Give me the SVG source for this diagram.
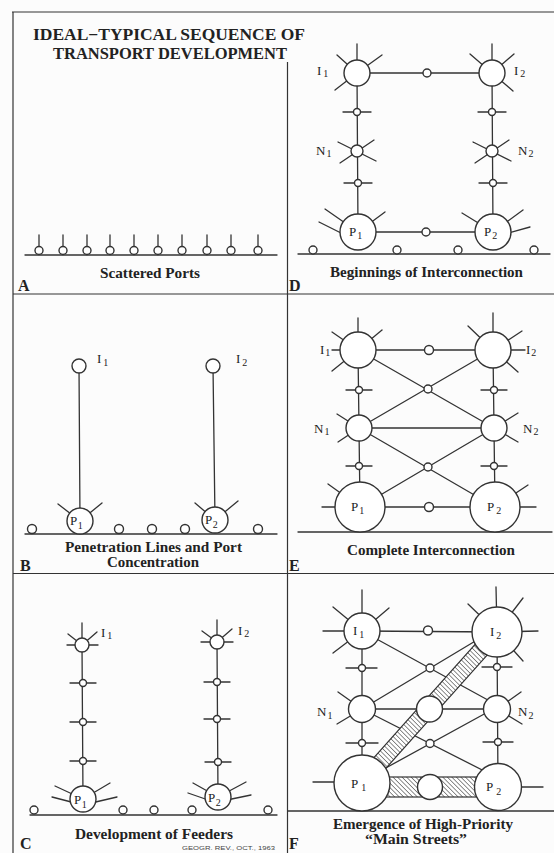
<svg xmlns="http://www.w3.org/2000/svg" width="554" height="853" viewBox="0 0 554 853">
<defs>
  <pattern id="hatch" width="3.2" height="3.2" patternUnits="userSpaceOnUse" patternTransform="rotate(-45)">
    <rect width="3.2" height="3.2" fill="#fff"/>
    <line x1="0" y1="0" x2="0" y2="3.2" stroke="#444" stroke-width="1.2"/>
  </pattern>
</defs>
<style>
  .frame{stroke:#333;stroke-width:1.2;fill:none}
  .ln{stroke:#333;stroke-width:1.3;fill:none;stroke-linecap:round}
  .nd{fill:#fff;stroke:#333;stroke-width:1.4}
  .band{fill:url(#hatch);stroke:#333;stroke-width:1.2}
  .cap{font-family:"Liberation Serif",serif;font-weight:bold;font-size:14.5px;fill:#222;text-anchor:middle}
  .ttl{font-family:"Liberation Serif",serif;font-weight:bold;font-size:16px;fill:#222}
  .pl{font-family:"Liberation Serif",serif;font-weight:bold;font-size:16px;fill:#222}
  .lb{font-family:"Liberation Serif",serif;font-size:13px;fill:#222;stroke:none}
  .sb{font-size:10px}
  .src{font-family:"Liberation Sans",sans-serif;font-size:6px;fill:#444}
</style>
<rect width="554" height="853" fill="#fcfcfc"/>

<!-- frame and panel dividers -->
<g id="frame">
  <line class="frame" x1="12" y1="12" x2="554" y2="12"/>
  <line class="frame" x1="13" y1="12" x2="13" y2="853"/>
  <line class="frame" x1="287.5" y1="62" x2="287.5" y2="853"/>
  <line class="frame" x1="13" y1="294" x2="554" y2="294"/>
  <line class="frame" x1="13" y1="573.5" x2="554" y2="573.5"/>
</g>

<g id="title">
  <text class="ttl" x="33" y="40" textLength="272" lengthAdjust="spacingAndGlyphs">IDEAL−TYPICAL SEQUENCE OF</text>
  <text class="ttl" x="53" y="59" textLength="234" lengthAdjust="spacingAndGlyphs">TRANSPORT DEVELOPMENT</text>
</g>

<!-- connectors: routes, feeders and ground lines -->
<g id="connectors">
  <!-- A -->
  <line class="ln" x1="25" y1="255" x2="277" y2="255"/>
  <!-- B -->
  <line class="ln" x1="25" y1="534" x2="277" y2="534"/>
  <line class="ln" x1="79" y1="366" x2="80" y2="521"/>
  <line class="ln" x1="213" y1="366" x2="215" y2="520"/>
  <!-- C -->
  <line class="ln" x1="30" y1="815" x2="277" y2="815"/>
  <line class="ln" x1="82" y1="645" x2="83" y2="799"/>
  <line class="ln" x1="217" y1="642" x2="218" y2="797"/>
  <!-- D -->
  <line class="ln" x1="298" y1="254" x2="550" y2="254"/>
  <line class="ln" x1="357" y1="73" x2="492" y2="73"/>
  <line class="ln" x1="357" y1="73" x2="358" y2="232"/>
  <line class="ln" x1="492" y1="73" x2="493" y2="232"/>
  <line class="ln" x1="358" y1="232" x2="493" y2="232"/>
  <!-- E -->
  <line class="ln" x1="298" y1="532" x2="552" y2="532"/>
  <line class="ln" x1="358" y1="350" x2="493" y2="350"/>
  <line class="ln" x1="358" y1="350" x2="360" y2="507"/>
  <line class="ln" x1="493" y1="350" x2="495" y2="507"/>
  <line class="ln" x1="358" y1="350" x2="494" y2="428"/>
  <line class="ln" x1="493" y1="350" x2="359" y2="428"/>
  <line class="ln" x1="359" y1="428" x2="494" y2="428"/>
  <line class="ln" x1="359" y1="428" x2="495" y2="507"/>
  <line class="ln" x1="494" y1="428" x2="360" y2="507"/>
  <line class="ln" x1="360" y1="507" x2="495" y2="507"/>
  <!-- F -->
  <line class="ln" x1="288" y1="811" x2="554" y2="811"/>
  <line class="ln" x1="362" y1="631" x2="497" y2="632"/>
  <line class="ln" x1="362" y1="631" x2="362" y2="783"/>
  <line class="ln" x1="497" y1="632" x2="498" y2="787"/>
  <line class="ln" x1="362" y1="631" x2="497" y2="705"/>
  <line class="ln" x1="362" y1="709" x2="497" y2="628"/>
  <line class="ln" x1="362" y1="709" x2="497" y2="709"/>
  <line class="ln" x1="362" y1="709" x2="498" y2="778"/>
  <line class="ln" x1="362" y1="781" x2="497" y2="707"/>
  <polygon class="band" points="356,777.7 491,626.7 503,637.3 368,788.3"/>
  <rect class="band" x="362" y="777" width="136" height="20"/>
</g>

<!-- ===== A: scattered ports ===== -->
<g id="a-ports" class="ln">
  <line x1="39" y1="235" x2="39" y2="246"/><line x1="63" y1="235" x2="63" y2="246"/>
  <line x1="87" y1="235" x2="87" y2="246"/><line x1="110" y1="235" x2="110" y2="246"/>
  <line x1="134" y1="235" x2="134" y2="246"/><line x1="158" y1="235" x2="158" y2="246"/>
  <line x1="182" y1="235" x2="182" y2="246"/><line x1="207" y1="235" x2="207" y2="246"/>
  <line x1="231" y1="235" x2="231" y2="246"/><line x1="258" y1="235" x2="258" y2="246"/>
</g>
<g id="a-port-nodes" class="nd">
  <circle cx="39" cy="250.5" r="4"/><circle cx="63" cy="250.5" r="4"/><circle cx="87" cy="250.5" r="4"/>
  <circle cx="110" cy="250.5" r="4"/><circle cx="134" cy="250.5" r="4"/><circle cx="158" cy="250.5" r="4"/>
  <circle cx="182" cy="250.5" r="4"/><circle cx="207" cy="250.5" r="4"/><circle cx="231" cy="250.5" r="4"/>
  <circle cx="258" cy="250.5" r="4"/>
</g>
<text class="cap" x="150" y="278" textLength="100" lengthAdjust="spacingAndGlyphs">Scattered Ports</text>
<text class="pl" x="18" y="291">A</text>

<!-- ===== B: penetration lines ===== -->
<g id="b-i1"><circle class="nd" cx="79" cy="366" r="7"/>
  <text class="lb" x="97" y="363">I<tspan class="sb" dx="2" dy="3">1</tspan></text></g>
<g id="b-i2"><circle class="nd" cx="213" cy="366" r="7"/>
  <text class="lb" x="236" y="363">I<tspan class="sb" dx="2" dy="3">2</tspan></text></g>
<g id="b-p1">
  <line class="ln" x1="80" y1="521" x2="58" y2="504"/><line class="ln" x1="80" y1="521" x2="102" y2="503"/>
  <circle class="nd" cx="80" cy="521" r="13"/>
  <text class="lb" x="70" y="525">P<tspan class="sb" dx="0.5" dy="4">1</tspan></text></g>
<g id="b-p2">
  <line class="ln" x1="215" y1="520" x2="195" y2="503"/><line class="ln" x1="215" y1="520" x2="238" y2="501"/>
  <circle class="nd" cx="215" cy="520" r="13"/>
  <text class="lb" x="205" y="524">P<tspan class="sb" dx="0.5" dy="4">2</tspan></text></g>
<g id="b-ports" class="nd">
  <circle cx="32" cy="529" r="4.5"/><circle cx="119" cy="529" r="4.5"/><circle cx="152" cy="529" r="4.5"/>
  <circle cx="185" cy="529" r="4.5"/><circle cx="258" cy="529" r="4.5"/>
</g>
<text class="cap" x="153.5" y="552" textLength="177" lengthAdjust="spacingAndGlyphs">Penetration Lines and Port</text>
<text class="cap" x="153" y="567" textLength="92" lengthAdjust="spacingAndGlyphs">Concentration</text>
<text class="pl" x="20" y="571">B</text>

<!-- ===== C: feeders ===== -->
<g id="c-i1" class="ln">
  <line x1="82" y1="645" x2="82" y2="623"/><line x1="82" y1="645" x2="68" y2="634"/>
  <line x1="82" y1="645" x2="97" y2="632"/><line x1="82" y1="645" x2="67" y2="645"/>
  <line x1="82" y1="645" x2="98" y2="645"/>
  <circle class="nd" cx="82" cy="645" r="7"/>
  <text class="lb" x="101" y="637">I<tspan class="sb" dx="2" dy="2">1</tspan></text>
</g>
<g id="c-i2" class="ln">
  <line x1="217" y1="642" x2="217" y2="620"/><line x1="217" y1="642" x2="202" y2="631"/>
  <line x1="217" y1="642" x2="232" y2="629"/><line x1="217" y1="642" x2="201" y2="642"/>
  <line x1="217" y1="642" x2="233" y2="642"/>
  <circle class="nd" cx="217" cy="642" r="7"/>
  <text class="lb" x="238" y="635">I<tspan class="sb" dx="2" dy="2">2</tspan></text>
</g>
<g id="c-feeder-nodes" class="ln">
  <line x1="70" y1="683" x2="96" y2="683"/><circle class="nd" cx="83" cy="683" r="3.5"/>
  <line x1="70" y1="722" x2="96" y2="722"/><circle class="nd" cx="83" cy="722" r="3.5"/>
  <line x1="70" y1="761" x2="96" y2="761"/><circle class="nd" cx="83" cy="761" r="3.5"/>
  <line x1="204" y1="682" x2="230" y2="682"/><circle class="nd" cx="217" cy="682" r="3.5"/>
  <line x1="204" y1="719" x2="230" y2="719"/><circle class="nd" cx="217" cy="719" r="3.5"/>
  <line x1="205" y1="762" x2="231" y2="762"/><circle class="nd" cx="218" cy="762" r="3.5"/>
</g>
<g id="c-p1" class="ln">
  <line x1="55" y1="786" x2="83" y2="799"/><line x1="52" y1="797" x2="79" y2="804"/>
  <line x1="110" y1="783" x2="83" y2="799"/><line x1="117" y1="797" x2="87" y2="804"/>
  <circle class="nd" cx="83" cy="799" r="13"/>
  <text class="lb" x="74" y="804">P<tspan class="sb" dx="0.5" dy="4">1</tspan></text>
</g>
<g id="c-p2" class="ln">
  <line x1="193" y1="783" x2="218" y2="797"/><line x1="188" y1="793" x2="214" y2="802"/>
  <line x1="246" y1="782" x2="218" y2="797"/><line x1="251" y1="795" x2="222" y2="801"/>
  <circle class="nd" cx="218" cy="797" r="13"/>
  <text class="lb" x="208" y="802">P<tspan class="sb" dx="0.5" dy="4">2</tspan></text>
</g>
<g id="c-ports" class="nd">
  <circle cx="34" cy="810" r="4"/><circle cx="123" cy="810" r="4"/><circle cx="154" cy="810" r="4"/>
  <circle cx="192" cy="810" r="4"/><circle cx="268" cy="810" r="4"/>
</g>
<text class="cap" x="154" y="839" textLength="158" lengthAdjust="spacingAndGlyphs">Development of Feeders</text>
<text class="src" x="182" y="850" textLength="93" lengthAdjust="spacingAndGlyphs">GEOGR. REV., OCT., 1963</text>
<text class="pl" x="20" y="849">C</text>

<!-- ===== D: beginnings of interconnection ===== -->
<g id="d-i1" class="ln">
  <line x1="357" y1="73" x2="357" y2="44"/><line x1="357" y1="73" x2="337" y2="55"/>
  <line x1="357" y1="73" x2="382" y2="55"/><line x1="357" y1="73" x2="335" y2="90"/>
  <circle class="nd" cx="357" cy="73" r="13"/>
  <text class="lb" x="317" y="75">I<tspan class="sb" dx="2" dy="2">1</tspan></text>
</g>
<g id="d-i2" class="ln">
  <line x1="492" y1="73" x2="492" y2="44"/><line x1="492" y1="73" x2="470" y2="54"/>
  <line x1="492" y1="73" x2="514" y2="54"/><line x1="492" y1="73" x2="513" y2="91"/>
  <circle class="nd" cx="492" cy="73" r="13"/>
  <text class="lb" x="514" y="75">I<tspan class="sb" dx="2" dy="2">2</tspan></text>
</g>
<g id="d-mid-nodes" class="nd">
  <circle cx="427" cy="73" r="4"/><circle cx="426" cy="232" r="4"/>
</g>
<g id="d-feeder-nodes" class="ln">
  <line x1="343" y1="112" x2="371" y2="112"/><circle class="nd" cx="357" cy="112" r="3.5"/>
  <line x1="344" y1="183" x2="372" y2="183"/><circle class="nd" cx="358" cy="183" r="3.5"/>
  <line x1="478" y1="112" x2="506" y2="112"/><circle class="nd" cx="492" cy="112" r="3.5"/>
  <line x1="479" y1="183" x2="507" y2="183"/><circle class="nd" cx="493" cy="183" r="3.5"/>
</g>
<g id="d-n1" class="ln">
  <line x1="338" y1="142" x2="376" y2="161"/><line x1="374" y1="140" x2="340" y2="163"/>
  <circle class="nd" cx="357" cy="151" r="6"/>
  <text class="lb" x="316" y="155">N<tspan class="sb" dx="1" dy="2">1</tspan></text>
</g>
<g id="d-n2" class="ln">
  <line x1="473" y1="142" x2="511" y2="161"/><line x1="509" y1="140" x2="475" y2="163"/>
  <circle class="nd" cx="492" cy="151" r="6"/>
  <text class="lb" x="518" y="155">N<tspan class="sb" dx="1" dy="2">2</tspan></text>
</g>
<g id="d-p1" class="ln">
  <line x1="325" y1="209" x2="358" y2="232"/><line x1="319" y1="222" x2="345" y2="235"/>
  <line x1="385" y1="212" x2="358" y2="232"/>
  <circle class="nd" cx="358" cy="232" r="18"/>
  <text class="lb" x="349" y="236">P<tspan class="sb" dx="1" dy="3">1</tspan></text>
</g>
<g id="d-p2" class="ln">
  <line x1="462" y1="213" x2="493" y2="232"/><line x1="523" y1="210" x2="493" y2="232"/>
  <line x1="530" y1="227" x2="505" y2="234"/>
  <circle class="nd" cx="493" cy="232" r="18"/>
  <text class="lb" x="484" y="236">P<tspan class="sb" dx="1" dy="3">2</tspan></text>
</g>
<g id="d-ports" class="nd">
  <circle cx="313" cy="250" r="4"/><circle cx="397" cy="250" r="4"/>
  <circle cx="458" cy="250" r="4"/><circle cx="534" cy="250" r="4"/>
</g>
<text class="cap" x="426.5" y="277" textLength="193" lengthAdjust="spacingAndGlyphs">Beginnings of Interconnection</text>
<text class="pl" x="289" y="291">D</text>

<!-- ===== E: complete interconnection ===== -->
<g id="e-i1" class="ln">
  <line x1="358" y1="350" x2="358" y2="318"/><line x1="358" y1="350" x2="332" y2="332"/>
  <line x1="358" y1="350" x2="382" y2="330"/><line x1="358" y1="350" x2="332" y2="371"/>
  <line x1="358" y1="350" x2="332" y2="350"/>
  <circle class="nd" cx="358" cy="350" r="18"/>
  <text class="lb" x="320" y="354">I<tspan class="sb" dx="1" dy="2">1</tspan></text>
</g>
<g id="e-i2" class="ln">
  <line x1="493" y1="350" x2="493" y2="313"/><line x1="493" y1="350" x2="468" y2="326"/>
  <line x1="493" y1="350" x2="522" y2="331"/><line x1="493" y1="350" x2="525" y2="350"/>
  <line x1="493" y1="350" x2="518" y2="372"/>
  <circle class="nd" cx="493" cy="350" r="18"/>
  <text class="lb" x="526" y="354">I<tspan class="sb" dx="1" dy="2">2</tspan></text>
</g>
<g id="e-mid-nodes" class="nd">
  <circle cx="429" cy="350" r="4.5"/><circle cx="428" cy="389" r="4"/>
  <circle cx="428" cy="467" r="4"/><circle cx="429" cy="507" r="4.5"/>
</g>
<g id="e-feeder-nodes" class="ln">
  <line x1="346" y1="390" x2="372" y2="390"/><circle class="nd" cx="359" cy="390" r="3.5"/>
  <line x1="346" y1="466" x2="372" y2="466"/><circle class="nd" cx="359" cy="466" r="3.5"/>
  <line x1="481" y1="390" x2="507" y2="390"/><circle class="nd" cx="494" cy="390" r="3.5"/>
  <line x1="481" y1="466" x2="507" y2="466"/><circle class="nd" cx="494" cy="466" r="3.5"/>
</g>
<g id="e-n1" class="ln">
  <line x1="359" y1="428" x2="337" y2="414"/><line x1="359" y1="428" x2="338" y2="442"/>
  <circle class="nd" cx="359" cy="428" r="13"/>
  <text class="lb" x="314" y="433">N<tspan class="sb" dx="1" dy="2">1</tspan></text>
</g>
<g id="e-n2" class="ln">
  <line x1="494" y1="428" x2="518" y2="413"/><line x1="494" y1="428" x2="518" y2="442"/>
  <circle class="nd" cx="494" cy="428" r="13"/>
  <text class="lb" x="523" y="433">N<tspan class="sb" dx="1" dy="2">2</tspan></text>
</g>
<g id="e-p1" class="ln">
  <line x1="360" y1="507" x2="328" y2="484"/><line x1="360" y1="507" x2="322" y2="507"/>
  <circle class="nd" cx="360" cy="507" r="25"/>
  <text class="lb" x="351" y="511">P<tspan class="sb" dx="1" dy="3">1</tspan></text>
</g>
<g id="e-p2" class="ln">
  <line x1="495" y1="507" x2="528" y2="485"/><line x1="495" y1="507" x2="536" y2="507"/>
  <circle class="nd" cx="495" cy="507" r="25"/>
  <text class="lb" x="487" y="511">P<tspan class="sb" dx="2" dy="3">2</tspan></text>
</g>
<text class="cap" x="431" y="555" textLength="168" lengthAdjust="spacingAndGlyphs">Complete Interconnection</text>
<text class="pl" x="289" y="571">E</text>

<!-- ===== F: high-priority main streets ===== -->
<g id="f-i1" class="ln">
  <line x1="362" y1="631" x2="362" y2="590"/><line x1="362" y1="631" x2="333" y2="607"/>
  <line x1="362" y1="631" x2="389" y2="608"/><line x1="362" y1="631" x2="323" y2="631"/>
  <line x1="362" y1="631" x2="333" y2="653"/>
  <circle class="nd" cx="362" cy="631" r="18"/>
  <text class="lb" x="353" y="635">I<tspan class="sb" dx="2" dy="3">1</tspan></text>
</g>
<g id="f-i2" class="ln">
  <line x1="497" y1="632" x2="496" y2="587"/><line x1="497" y1="632" x2="468" y2="604"/>
  <line x1="497" y1="632" x2="523" y2="598"/><line x1="497" y1="632" x2="538" y2="631"/>
  <line x1="497" y1="632" x2="523" y2="661"/>
  <circle class="nd" cx="497" cy="632" r="25"/>
  <text class="lb" x="490" y="636">I<tspan class="sb" dx="2" dy="3">2</tspan></text>
</g>
<g id="f-mid-nodes" class="nd">
  <circle cx="428" cy="630.5" r="4.5"/><circle cx="430" cy="668" r="4"/><circle cx="430" cy="743.5" r="4"/>
</g>
<g id="f-feeder-nodes" class="ln">
  <line x1="346" y1="668" x2="377" y2="668"/><circle class="nd" cx="362" cy="668" r="3.5"/>
  <line x1="346" y1="743" x2="378" y2="743"/><circle class="nd" cx="362" cy="743" r="3.5"/>
  <line x1="482" y1="667" x2="512" y2="667"/><circle class="nd" cx="497" cy="667" r="3.5"/>
  <line x1="483" y1="742" x2="513" y2="742"/><circle class="nd" cx="498" cy="742" r="3.5"/>
</g>
<g id="f-n1" class="ln">
  <line x1="362" y1="709" x2="338" y2="692"/><line x1="362" y1="709" x2="337" y2="724"/>
  <circle class="nd" cx="362" cy="709" r="13.5"/>
  <text class="lb" x="317" y="716">N<tspan class="sb" dx="1" dy="3">1</tspan></text>
</g>
<g id="f-n2" class="ln">
  <line x1="497" y1="709" x2="521" y2="692"/><line x1="497" y1="709" x2="522" y2="724"/>
  <circle class="nd" cx="497" cy="709" r="13.5"/>
  <text class="lb" x="518" y="716">N<tspan class="sb" dx="1" dy="3">2</tspan></text>
</g>
<g id="f-mid-n"><circle class="nd" cx="429.5" cy="709" r="13"/></g>
<g id="f-mid-p"><circle class="nd" cx="430" cy="787" r="12.5"/></g>
<g id="f-p1" class="ln">
  <line x1="362" y1="782" x2="313" y2="782"/>
  <circle class="nd" cx="362" cy="783" r="28"/>
  <text class="lb" x="351" y="788">P<tspan class="sb" dx="3" dy="3">1</tspan></text>
</g>
<g id="f-p2" class="ln">
  <line x1="498" y1="787" x2="543" y2="787"/>
  <circle class="nd" cx="498" cy="787" r="23.5"/>
  <text class="lb" x="486" y="791">P<tspan class="sb" dx="3" dy="4">2</tspan></text>
</g>
<text class="cap" x="423" y="829" textLength="180" lengthAdjust="spacingAndGlyphs">Emergence of High-Priority</text>
<text class="cap" x="416" y="844" textLength="102" lengthAdjust="spacingAndGlyphs">“Main Streets”</text>
<text class="pl" x="289" y="849">F</text>
</svg>
